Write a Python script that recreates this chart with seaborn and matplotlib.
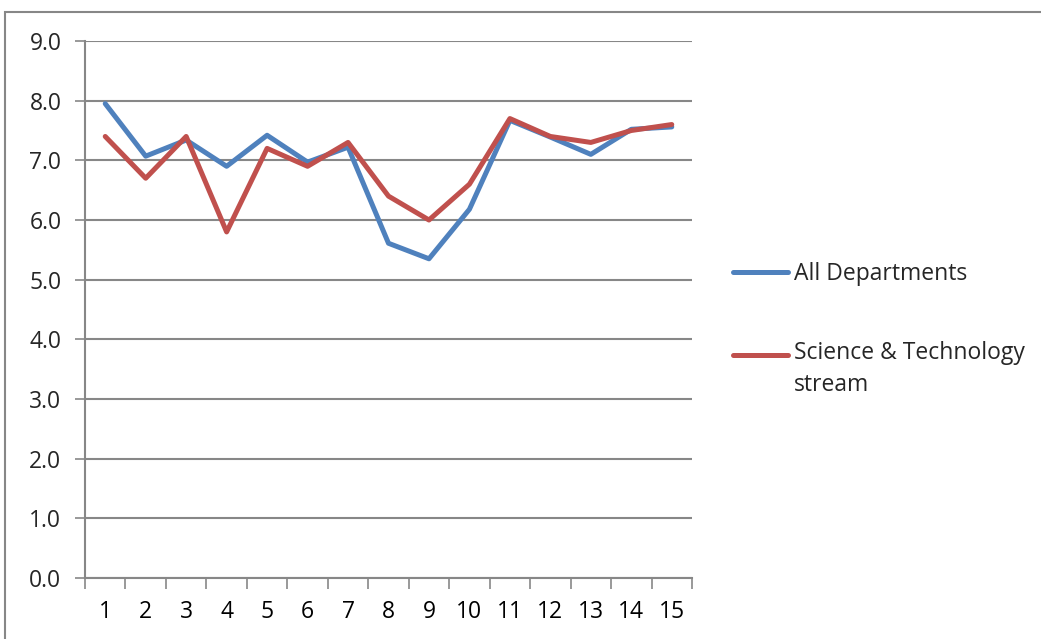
import matplotlib
matplotlib.use("Agg")
import matplotlib.pyplot as plt
import seaborn as sns
import pandas as pd
import numpy as np
from matplotlib.patches import Rectangle
from matplotlib.ticker import FixedLocator, MultipleLocator
from matplotlib.legend_handler import HandlerLine2D

categories = [str(i) for i in range(1, 16)]
all_departments = [7.95, 7.07, 7.34, 6.90, 7.42, 6.97, 7.22, 5.61, 5.35, 6.18, 7.67, 7.39, 7.10, 7.52, 7.56]
sci_tech = [7.40, 6.70, 7.40, 5.80, 7.20, 6.90, 7.30, 6.40, 6.00, 6.60, 7.70, 7.40, 7.30, 7.50, 7.60]
series_names = ["All Departments", "Science & Technology\nstream"]
colors = ["#4F81BD", "#C0504D"]

sns.set_style("white")
plt.rcParams['font.family'] = ['Open Sans', 'DejaVu Sans']
FS = 16.5

df = pd.DataFrame({
    "pos": list(range(len(categories))) * 2,
    "value": all_departments + sci_tech,
    "series": [series_names[0]] * len(categories) + [series_names[1]] * len(categories),
})

fig = plt.figure(figsize=(10.41, 6.39), dpi=100)
ax = fig.add_axes([85/1041, 1-578/639, (692-85)/1041, (578-41)/639])

sns.lineplot(data=df, x="pos", y="value", hue="series", palette=colors,
             linewidth=3.6, ax=ax, legend=True, solid_capstyle="round")

gray = "#878787"
ax.set_xlim(-0.5, len(categories) - 0.5)
ax.set_ylim(0, 9)
ax.yaxis.set_major_locator(MultipleLocator(1.0))
ax.set_yticklabels([f"{v:.1f}" for v in ax.get_yticks()])
ax.grid(axis="y", color=gray, linewidth=1.5)
ax.set_axisbelow(True)
ax.set_xticks(range(len(categories)))
ax.set_xticklabels(categories)
ax.xaxis.set_minor_locator(FixedLocator(np.arange(-0.5, len(categories), 1.0)))
ax.tick_params(axis="x", which="major", length=0, pad=15.5, labelsize=FS, colors="black")
ax.tick_params(axis="x", which="minor", length=8, width=1.2, color=gray, direction="out", bottom=True)
ax.tick_params(axis="y", which="major", length=7, width=1.2, color=gray, direction="out", left=True, pad=10, labelsize=FS)
for s in ["top", "right"]:
    ax.spines[s].set_visible(False)
for s in ["left", "bottom"]:
    ax.spines[s].set_color(gray)
    ax.spines[s].set_linewidth(1.5)
ax.set_xlabel("")
ax.set_ylabel("")


class FirstLineHandler(HandlerLine2D):
    def __init__(self, yoffset=0.0, **kw):
        super().__init__(**kw)
        self.yoffset = yoffset

    def create_artists(self, legend, orig_handle, xdescent, ydescent, width, height, fontsize, trans):
        artists = super().create_artists(legend, orig_handle, xdescent, ydescent, width, height, fontsize, trans)
        for a in artists:
            a.set_ydata(np.asarray(a.get_ydata()) + self.yoffset)
        return artists


handles, labels = ax.get_legend_handles_labels()
handler_map = {handles[1]: FirstLineHandler(yoffset=11.0)}
leg = ax.legend(handles, labels, loc="upper left", bbox_to_anchor=(733/1041, 1-262/639),
                bbox_transform=fig.transFigure, frameon=False, fontsize=FS,
                handlelength=2.4, handletextpad=0.25, labelspacing=2.42,
                borderpad=0, borderaxespad=0, handler_map=handler_map)
for t in leg.get_texts():
    t.set_linespacing(1.4)
for line in leg.get_lines():
    line.set_linewidth(3.6)
    line.set_solid_capstyle("round")

fig.patches.append(Rectangle((5/1041, -0.1), 1.2, (639-12)/639 + 0.1, transform=fig.transFigure,
                             fill=False, edgecolor=gray, linewidth=1.5))

fig.savefig("out.png", dpi=100)
